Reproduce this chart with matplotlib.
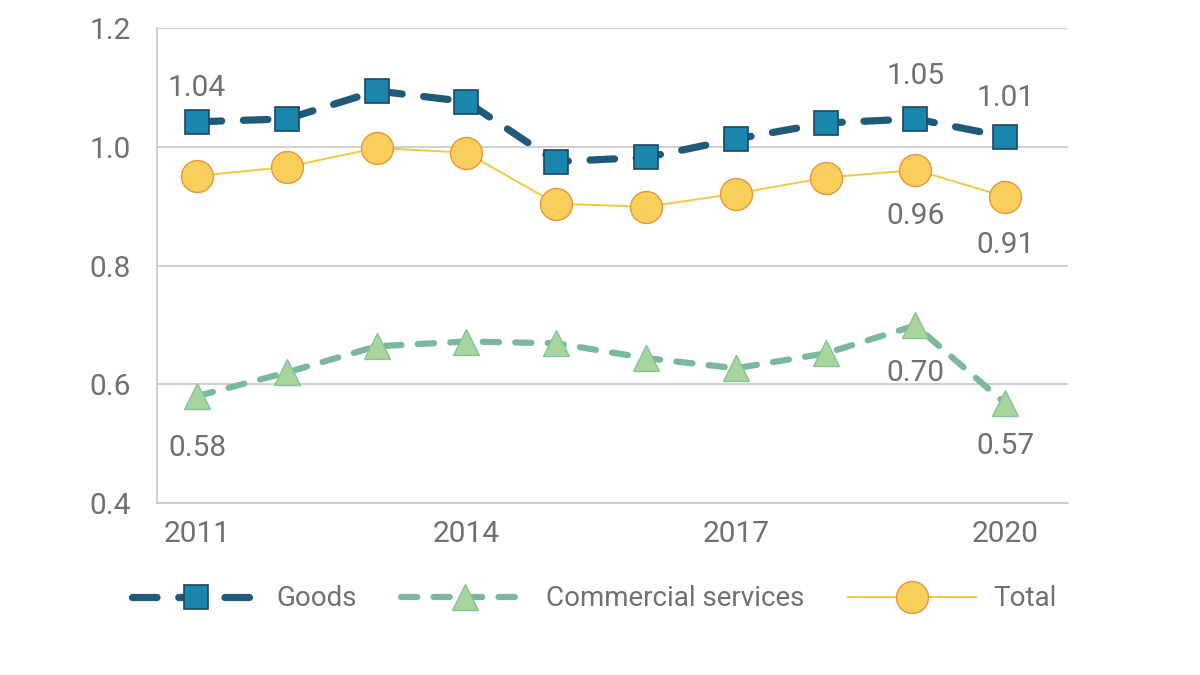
import matplotlib
matplotlib.use("Agg")
import matplotlib.pyplot as plt
from matplotlib.lines import Line2D

plt.rcParams['font.family'] = ['Roboto', 'DejaVu Sans']

years = [2011, 2012, 2013, 2014, 2015, 2016, 2017, 2018, 2019, 2020]
goods = [1.042, 1.047, 1.094, 1.076, 0.975, 0.982, 1.013, 1.040, 1.047, 1.017]
services = [0.580, 0.620, 0.664, 0.672, 0.669, 0.644, 0.627, 0.652, 0.699, 0.568]
total = [0.951, 0.966, 0.998, 0.990, 0.904, 0.899, 0.921, 0.948, 0.961, 0.916]
xticks = [2011, 2014, 2017, 2020]
yticks = [0.4, 0.6, 0.8, 1.0, 1.2]

TXT = '#707070'
GRID = '#c8c8c8'

fig = plt.figure(figsize=(12, 6.75), dpi=100)
ax = fig.add_axes([0.131, 0.2548, 0.759, 0.7037])

g_line = dict(color='#1f5a78', lw=5.2, dashes=(3.4, 3.0), dash_capstyle='round',
              marker='s', ms=17, mfc='#1a85ad', mec='#1d4660', mew=1.2)
s_line = dict(color='#7ab89d', lw=4.5, dashes=(2.6, 2.6), dash_capstyle='round',
              marker='^', ms=19, mfc='#a8d49e', mec='#86c29a', mew=1.0)
t_line = dict(color='#f5c842', lw=1.4, marker='o', ms=23,
              mfc='#f7cf5a', mec='#e8963a', mew=1.0)

ax.plot(years, services, **s_line, zorder=3)
ax.plot(years, total, **t_line, zorder=4)
ax.plot(years, goods, **g_line, zorder=5)

ax.set_xlim(2010.555, 2020.70)
ax.set_ylim(0.4, 1.2)
ax.set_xticks(xticks)
ax.set_yticks(yticks)
ax.set_yticklabels([f'{v:.1f}' for v in yticks])
ax.tick_params(axis='both', length=0, labelsize=21.5, colors=TXT)
ax.tick_params(axis='y', pad=19)
ax.tick_params(axis='x', pad=12)
ax.grid(axis='y', color=GRID, lw=1.2)
ax.set_axisbelow(True)
for s in ['top', 'right']:
    ax.spines[s].set_visible(False)
for s in ['left', 'bottom']:
    ax.spines[s].set_color(GRID)
    ax.spines[s].set_linewidth(1.2)

def lab(i, series, txt, dy):
    ax.annotate(txt, (years[i], series[i]), xytext=(0, dy), textcoords='offset points',
                ha='center', va='center', fontsize=21.5, color=TXT)

lab(0, goods, '1.04', 24)
lab(8, goods, '1.05', 31)
lab(9, goods, '1.01', 28)
lab(8, total, '0.96', -33)
lab(9, total, '0.91', -35)
lab(0, services, '0.58', -37)
lab(8, services, '0.70', -34)
lab(9, services, '0.57', -31)

handles = [Line2D([], [], **g_line), Line2D([], [], **s_line), Line2D([], [], **t_line)]
fig.legend(handles, ['Goods', 'Commercial services', 'Total'], loc='center',
           bbox_to_anchor=(0.495, 0.113), ncol=3, frameon=False, fontsize=20,
           handlelength=4.6, columnspacing=1.6, handletextpad=0.6, labelcolor=TXT)

fig.savefig('out.png', dpi=100)
